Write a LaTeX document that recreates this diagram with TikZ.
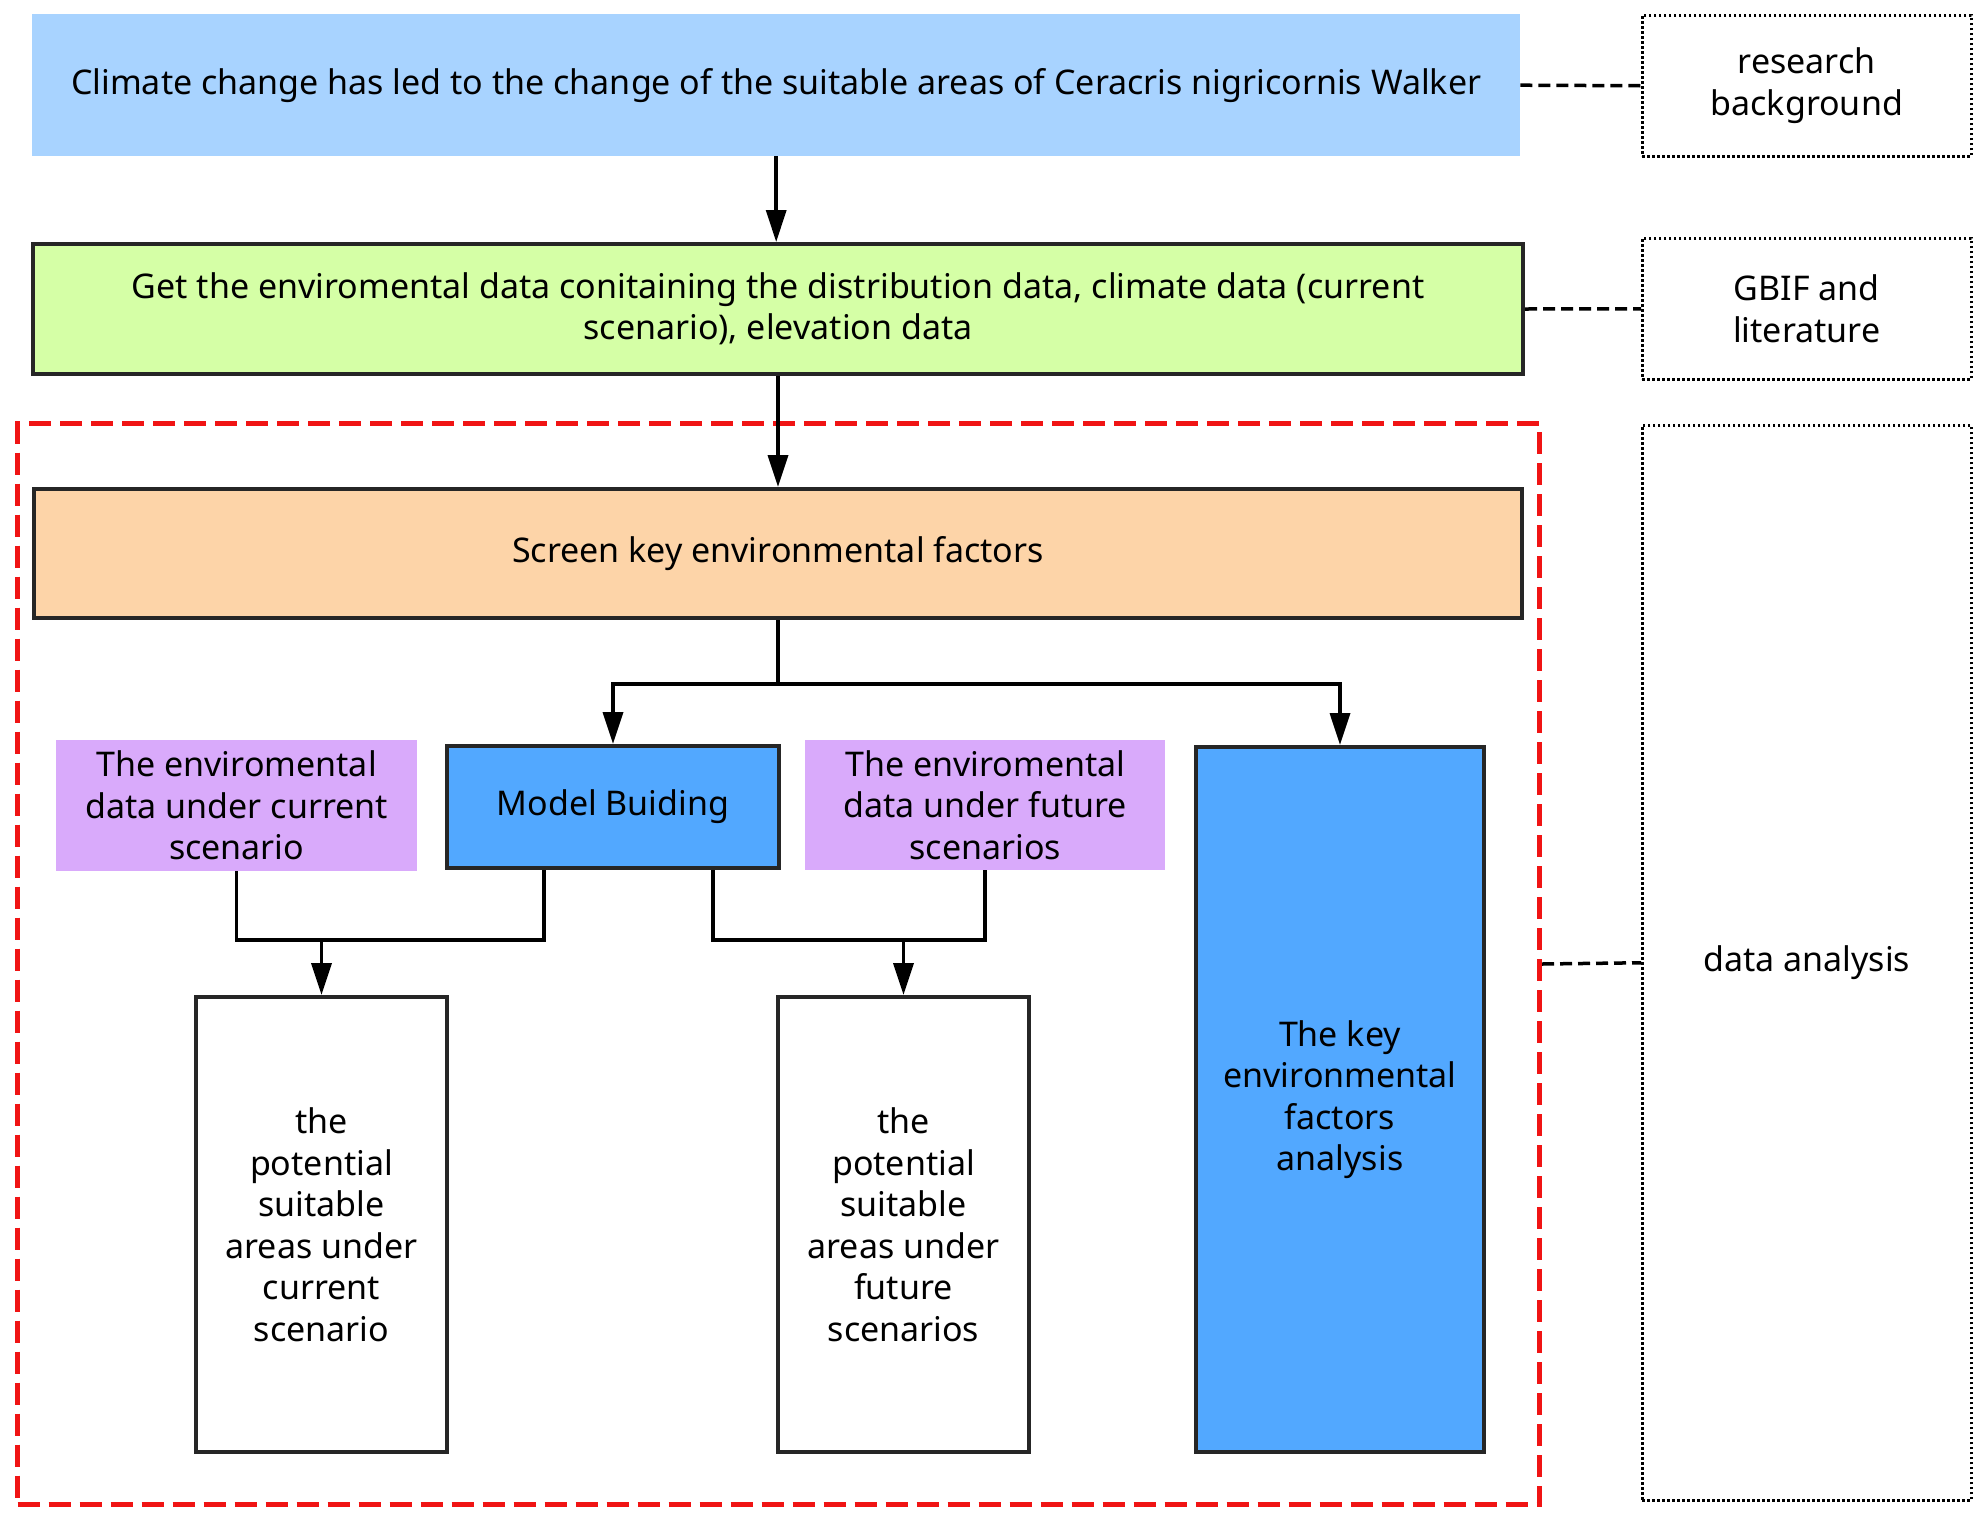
\documentclass[tikz,border=0pt]{standalone}
\usepackage{fontspec}
\setmainfont{Noto Sans}
\usetikzlibrary{arrows.meta}
\definecolor{topblue}{RGB}{168,211,255}
\definecolor{greenfill}{RGB}{213,255,166}
\definecolor{orangefill}{RGB}{253,212,168}
\definecolor{purplefill}{RGB}{217,170,251}
\definecolor{modelblue}{RGB}{82,168,255}
\definecolor{redline}{RGB}{240,20,20}
\begin{document}
\begin{tikzpicture}[x=1pt,y=-1pt,
  base/.style={inner sep=0pt, align=center, anchor=north west,
    font=\fontsize{34}{41.5}\selectfont},
  plainbox/.style={base},
  solidbox/.style={base, draw=black!85, line width=4pt},
  dotbox/.style={base, draw=black, line width=2.5pt, dash pattern=on 2.5pt off 2.5pt},
  groupbox/.style={base, draw=redline, line width=5pt, dash pattern=on 22pt off 9pt},
  conn/.style={draw=black, line width=3.5pt},
  arr/.style={conn, -{Triangle[length=32pt,width=20pt]}},
  dashconn/.style={draw=black, line width=3.5pt, dash pattern=on 12pt off 6pt}
]
\useasboundingbox (0,0) rectangle (1984,1516);
\fill[white] (0,0) rectangle (1984,1516);

% group frame
\node[groupbox, minimum width=1522, minimum height=1081] (group) at (15,421) {};

% top row
\node[plainbox, fill=topblue, minimum width=1488, minimum height=142] (top) at (32,14)
  {Climate change has led to the change of the suitable areas of Ceracris nigricornis Walker};
\node[dotbox, minimum width=329, minimum height=141] (bg) at (1641,14)
  {research\\background};

\node[solidbox, fill=greenfill, minimum width=1490, minimum height=130] (green) at (31,242)
  {Get the enviromental data conitaining the distribution data, climate data (current\\scenario), elevation data};
\node[dotbox, minimum width=329, minimum height=141] (gbif) at (1641,237)
  {GBIF and\\literature};

\node[dotbox, minimum width=329, minimum height=1075] (da) at (1641,424)
  {data analysis};

\node[solidbox, fill=orangefill, minimum width=1488, minimum height=129] (orange) at (32,487)
  {Screen key environmental factors};

\node[plainbox, fill=purplefill, minimum width=361, minimum height=131] (p1) at (56,740)
  {The enviromental\\data under current\\scenario};
\node[solidbox, fill=modelblue, minimum width=332, minimum height=122] (model) at (445,744)
  {Model Buiding};
\node[plainbox, fill=purplefill, minimum width=360, minimum height=130] (p2) at (805,740)
  {The enviromental\\data under future\\scenarios};
\node[solidbox, fill=modelblue, minimum width=288, minimum height=705] (tall) at (1194,745)
  {The key\\environmental\\factors\\analysis};

\node[solidbox, fill=white, minimum width=251, minimum height=455] (w1) at (194,995)
  {the\\potential\\suitable\\areas under\\current\\scenario};
\node[solidbox, fill=white, minimum width=251, minimum height=455] (w2) at (776,995)
  {the\\potential\\suitable\\areas under\\future\\scenarios};

% connectors
\draw[arr] (top.south) -- (top.south |- green.north);
\draw[arr] (green.south) -- (green.south |- orange.north);
\path (orange.south) ++(0,64) coordinate (split);
\draw[conn] (orange.south) -- (split);
\draw[arr] (split) -| (model.north);
\draw[arr] (split) -| (tall.north);

\path (w1.north) ++(0,-55) coordinate (joinL);
\draw[conn] (p1.south) |- (joinL) -| ([xshift=99pt]model.south west);
\draw[arr] (joinL) -- (w1.north);

\path (w2.north) ++(0,-55) coordinate (joinR);
\draw[conn] ([xshift=-68pt]model.south east) |- (joinR) -| (p2.south);
\draw[arr] (joinR) -- (w2.north);

% dashed links to labels
\draw[dashconn] (top.east) -- (bg.west);
\draw[dashconn] (green.east) -- (gbif.west);
\draw[dashconn] (group.east) -- (da.west);
\end{tikzpicture}
\end{document}
